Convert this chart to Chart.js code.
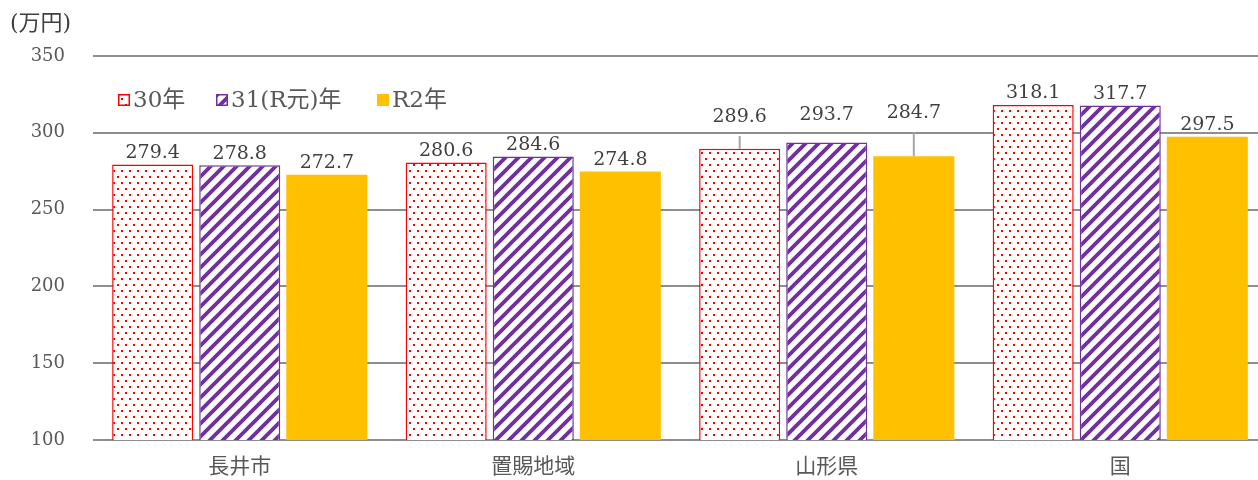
<!DOCTYPE html>
<html>
<head>
<meta charset="utf-8">
<script src="https://cdn.jsdelivr.net/npm/chart.js@4"></script>
<style>
html,body{margin:0;padding:0;background:#fff;overflow:hidden;}
#wrap{width:1258px;height:480px;position:relative;overflow:hidden;}
#c{display:block;}
</style>
</head>
<body>
<div id="wrap"><canvas id="c" width="1267" height="480"></canvas></div>
<script>
const categories = ['長井市', '置賜地域', '山形県', '国'];
const seriesNames = ['30年', '31(R元)年', 'R2年'];
const values30 = [279.4, 280.6, 289.6, 318.1];
const values31 = [278.8, 284.6, 293.7, 317.7];
const valuesR2 = [272.7, 274.8, 284.7, 297.5];
const yTicks = [100, 150, 200, 250, 300, 350];
const unitLabel = '(万円)';

const canvas = document.getElementById('c');
const ctx = canvas.getContext('2d');

function dotPattern() {
  const c = document.createElement('canvas');
  c.width = 8; c.height = 12;
  const x = c.getContext('2d');
  x.fillStyle = '#ffffff'; x.fillRect(0, 0, 8, 12);
  x.fillStyle = '#ff0000';
  x.fillRect(1, 2, 2, 2);
  x.fillRect(5, 8, 2, 2);
  return ctx.createPattern(c, 'repeat');
}
function stripePattern() {
  const s = 13;
  const c = document.createElement('canvas');
  c.width = s; c.height = s;
  const x = c.getContext('2d');
  x.fillStyle = '#ffffff'; x.fillRect(0, 0, s, s);
  x.strokeStyle = '#7030a0';
  x.lineWidth = 3.8;
  x.beginPath();
  x.moveTo(-s, s * 2); x.lineTo(s * 2, -s);
  x.moveTo(-s, s); x.lineTo(s, -s);
  x.moveTo(0, s * 2); x.lineTo(s * 2, 0);
  x.stroke();
  return ctx.createPattern(c, 'repeat');
}

const fills = [dotPattern(), stripePattern(), '#ffc000'];
const borders = ['#ff0000', '#7030a0', '#ffc000'];
const TXT = '#595959';
const SERIF = '"DejaVu Serif", "Noto Sans CJK JP", serif';

// labels moved up (dataset-dataIndex : value level of label centre, leader line drawn if far)
const movedLabels = { '0-2': 310.3, '1-2': 311.6, '2-2': 312.9 };

const overlay = {
  id: 'overlay',
  afterDatasetsDraw(chart) {
    const c = chart.ctx;
    const ys = chart.scales.y;
    c.save();
    c.font = '19px ' + SERIF;
    c.textAlign = 'center';
    chart.data.datasets.forEach((ds, di) => {
      const meta = chart.getDatasetMeta(di);
      meta.data.forEach((bar, i) => {
        const v = ds.data[i];
        const key = di + '-' + i;
        const txt = v.toFixed(1);
        c.fillStyle = '#404040';
        if (movedLabels[key] !== undefined) {
          const ly = ys.getPixelForValue(movedLabels[key]);
          c.textBaseline = 'middle';
          c.fillText(txt, bar.x, ly);
          if (bar.y - (ly + 19) > 10) {
            c.strokeStyle = '#a6a6a6';
            c.lineWidth = 2;
            c.beginPath();
            c.moveTo(bar.x, ly + 19);
            c.lineTo(bar.x, bar.y);
            c.stroke();
          }
        } else {
          c.textBaseline = 'bottom';
          c.fillText(txt, bar.x, bar.y - 2);
        }
      });
    });
    // unit label
    c.font = '22px ' + SERIF;
    c.fillStyle = '#404040';
    c.textAlign = 'left';
    c.textBaseline = 'middle';
    c.fillText(unitLabel, 10, 24);
    // legend
    const lx = [118, 216, 377];
    const ly = 100;
    chart.data.datasets.forEach((ds, di) => {
      const x0 = lx[di];
      c.fillStyle = fills[di];
      c.fillRect(x0, ly - 6, 12, 12);
      c.strokeStyle = borders[di];
      c.lineWidth = 1.5;
      c.strokeRect(x0 + 0.75, ly - 5.25, 10.5, 10.5);
      c.fillStyle = TXT;
      c.font = '23px ' + SERIF;
      c.textAlign = 'left';
      c.textBaseline = 'middle';
      c.fillText(ds.label, x0 + 15, ly + 1);
    });
    c.restore();
  }
};

new Chart(canvas, {
  type: 'bar',
  data: {
    labels: categories,
    datasets: [values30, values31, valuesR2].map((d, i) => ({
      label: seriesNames[i],
      data: d,
      backgroundColor: fills[i],
      borderColor: borders[i],
      borderWidth: i === 2 ? 0 : 1.5,
      borderSkipped: false,
      barPercentage: 0.931,
      categoryPercentage: 0.89
    }))
  },
  options: {
    responsive: false,
    animation: false,
    events: [],
    layout: { padding: { top: 56, right: 0, left: 0, bottom: 0 } },
    plugins: { legend: { display: false }, tooltip: { enabled: false }, title: { display: false } },
    scales: {
      x: {
        grid: { display: false, drawTicks: false },
        border: { display: false },
        ticks: { color: TXT, font: { family: SERIF, size: 21 }, padding: 15 },
        afterFit(s) { s.height = 40; }
      },
      y: {
        min: 100, max: 350,
        afterBuildTicks(s) { s.ticks = yTicks.map(v => ({ value: v })); },
        grid: { color: '#8e8e8e', lineWidth: 2, drawTicks: false },
        border: { display: false },
        ticks: { color: TXT, font: { family: SERIF, size: 18 }, padding: 28 },
        afterFit(s) { s.width = 93; }
      }
    }
  },
  plugins: [overlay]
});
</script>
</body>
</html>
